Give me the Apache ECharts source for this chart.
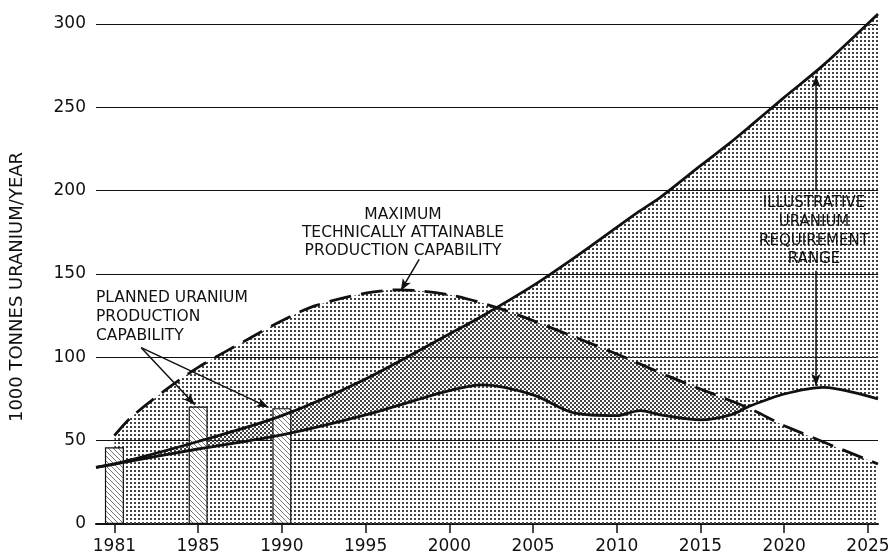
<!DOCTYPE html>
<html>
<head>
<meta charset="utf-8">
<script src="https://cdn.jsdelivr.net/npm/echarts@6/dist/echarts.min.js"></script>
<style>
  html, body { margin: 0; padding: 0; background: #fff; }
  #chart { width: 896px; height: 557px; }
</style>
</head>
<body>
<div id="chart"></div>
<script>
// x axis: the first tick is labelled 1981 but sits where 1980 would be
const xTicks = [1980, 1985, 1990, 1995, 2000, 2005, 2010, 2015, 2020, 2025];
const xTickLabels = ["1981", "1985", "1990", "1995", "2000", "2005", "2010", "2015", "2020", "2025"];

// illustrative uranium requirement range (1000 t U / year)
const reqYears = [1978.9, 1980, 1985, 1990, 1995, 2000, 2002, 2005, 2007.5, 2010, 2011.4, 2012.6, 2015, 2016.8, 2018, 2020, 2022.3, 2025.6];
const reqLow   = [34, 36, 45, 53.5, 65.5, 80, 83.5, 77.5, 66.5, 65, 68, 65.5, 62.5, 65.5, 71, 78, 82, 75];
const reqHigh  = [34, 36, 49.5, 65, 87, 114, 125, 143, 160, 178, 188, 196, 215, 229, 239, 256, 275, 306];

// maximum technically attainable production capability
const maxYears = [1980, 1981, 1983, 1985, 1988, 1990, 1992, 1995, 1997, 2000, 2002.8, 2005, 2010, 2013, 2015, 2018, 2020, 2025.6];
const maxCap   = [53, 64, 80, 94, 111, 122, 131, 138.5, 140.5, 137.5, 130, 122, 102, 89, 81, 69, 59, 36];

// planned uranium production capability (bars at the 1981, 1985, 1990 ticks)
const planYears = [1980, 1985, 1990];
const planCap   = [46, 70.5, 69.5];

const FONT = "DejaVu Sans";
const INK = "#111";

/* ---------- fill patterns ---------- */
function dots(ox, oy) {
  const c = document.createElement("canvas");
  c.width = 4; c.height = 4;
  const g = c.getContext("2d");
  g.fillStyle = "#444";
  g.fillRect(ox, oy, 2, 2);
  return { image: c, repeat: "repeat" };
}
function hatch() {
  const n = 5;
  const c = document.createElement("canvas");
  c.width = n; c.height = n;
  const g = c.getContext("2d");
  g.fillStyle = "#fff";
  g.fillRect(0, 0, n, n);
  g.fillStyle = "#777";
  for (let i = 0; i < n; i++) g.fillRect(i, i, 1, 1);
  return { image: c, repeat: "repeat" };
}
const dotsA = dots(0, 0);
const dotsB = dots(2, 2);

const pairs = (xs, ys) => xs.map((x, i) => [x, ys[i]]);
// stacked series keep the value first so the stack runs on y, not on x
const yFirst = (xs, ys) => xs.map((x, i) => [ys[i], x]);
const bandHeight = reqHigh.map((v, i) => v - reqLow[i]);

const chart = echarts.init(document.getElementById("chart"));

chart.setOption({
  backgroundColor: "#fff",
  animation: false,
  grid: { left: 96, right: 18, top: 24, bottom: 33 },

  xAxis: {
    type: "value",
    min: 1978.9,
    max: 2025.6,
    offset: 3,
    axisLine: { lineStyle: { color: INK, width: 2 } },
    axisTick: { customValues: xTicks, length: 9, lineStyle: { color: INK, width: 1.5 } },
    axisLabel: {
      customValues: xTicks,
      formatter: (v) => xTickLabels[xTicks.indexOf(v)],
      margin: 11,
      fontSize: 17,
      fontFamily: FONT,
      color: INK,
    },
    splitLine: { show: false },
  },

  yAxis: {
    type: "value",
    min: 0,
    max: 300,
    interval: 50,
    name: "1000 TONNES URANIUM/YEAR",
    nameLocation: "middle",
    nameGap: 70,
    nameTextStyle: { fontSize: 18, fontFamily: FONT, color: INK, padding: [0, 0, 0, -26] },
    axisLine: { show: false },
    axisTick: { show: false },
    axisLabel: { margin: 10, fontSize: 17, fontFamily: FONT, color: INK },
    splitLine: { lineStyle: { color: INK, width: 1 } },
  },

  series: [
    // area under the max-capability curve
    {
      type: "line",
      data: pairs(maxYears, maxCap),
      smooth: 0.3,
      symbol: "none",
      silent: true,
      z: 1,
      lineStyle: { width: 0 },
      areaStyle: { color: dotsB, opacity: 1 },
    },
    // requirement range band (stacked on the low curve)
    {
      type: "line",
      stack: "req",
      data: yFirst(reqYears, reqLow),
      encode: { x: 1, y: 0 },
      smooth: 0.3,
      symbol: "none",
      silent: true,
      z: 1,
      lineStyle: { width: 0 },
    },
    {
      type: "line",
      stack: "req",
      data: yFirst(reqYears, bandHeight),
      encode: { x: 1, y: 0 },
      smooth: 0.3,
      symbol: "none",
      silent: true,
      clip: false,
      z: 1,
      lineStyle: { width: 0 },
      areaStyle: { color: dotsA, opacity: 1 },
    },
    // planned capability bars
    {
      type: "bar",
      data: pairs(planYears, planCap),
      barWidth: 19,
      silent: true,
      z: 2,
      itemStyle: { color: hatch(), borderColor: INK, borderWidth: 1.2 },
    },
    // curves
    {
      type: "line",
      data: pairs(maxYears, maxCap),
      smooth: 0.3,
      symbol: "none",
      silent: true,
      z: 3,
      lineStyle: { color: INK, width: 2.8, type: [22, 10] },
    },
    {
      type: "line",
      data: pairs(reqYears, reqLow),
      smooth: 0.3,
      symbol: "none",
      silent: true,
      z: 3,
      lineStyle: { color: INK, width: 2.8 },
    },
    {
      type: "line",
      data: pairs(reqYears, reqHigh),
      smooth: 0.3,
      symbol: "none",
      silent: true,
      clip: false,
      z: 3,
      lineStyle: { color: INK, width: 2.8 },
      markLine: {
        silent: true,
        animation: false,
        symbolSize: [7, 12],
        label: { show: false },
        lineStyle: { color: INK, width: 1.5, type: "solid" },
        data: [
          [{ coord: [1998.2, 158.8], symbol: "none" }, { coord: [1997.1, 140], symbol: "arrow" }],
          [{ coord: [1981.6, 105.8], symbol: "none" }, { coord: [1984.8, 71.5], symbol: "arrow" }],
          [{ coord: [1981.6, 105.8], symbol: "none" }, { coord: [1989.2, 70], symbol: "arrow" }],
          [{ coord: [2021.9, 269], symbol: "arrow" }, { coord: [2021.9, 200], symbol: "none" }],
          [{ coord: [2021.9, 152], symbol: "none" }, { coord: [2021.9, 83], symbol: "arrow" }],
        ],
      },
    },
  ],

  graphic: [
    {
      type: "text",
      z: 10,
      style: {
        text: "MAXIMUM\nTECHNICALLY ATTAINABLE\nPRODUCTION CAPABILITY",
        x: 403, y: 206, align: "center", verticalAlign: "top",
        lineHeight: 18, font: `15.5px "${FONT}"`, fill: INK,
      },
    },
    {
      type: "text",
      z: 10,
      style: {
        text: "PLANNED URANIUM\nPRODUCTION\nCAPABILITY",
        x: 96, y: 288.5, align: "left", verticalAlign: "top",
        lineHeight: 19, font: `15.5px "${FONT}"`, fill: INK,
      },
    },
    {
      type: "text",
      z: 10,
      style: {
        text: "ILLUSTRATIVE\nURANIUM\nREQUIREMENT\nRANGE",
        x: 814, y: 194, align: "center", verticalAlign: "top",
        lineHeight: 18.7, font: `15px "${FONT}"`, fill: INK,
      },
    },
  ],
});
</script>
</body>
</html>
